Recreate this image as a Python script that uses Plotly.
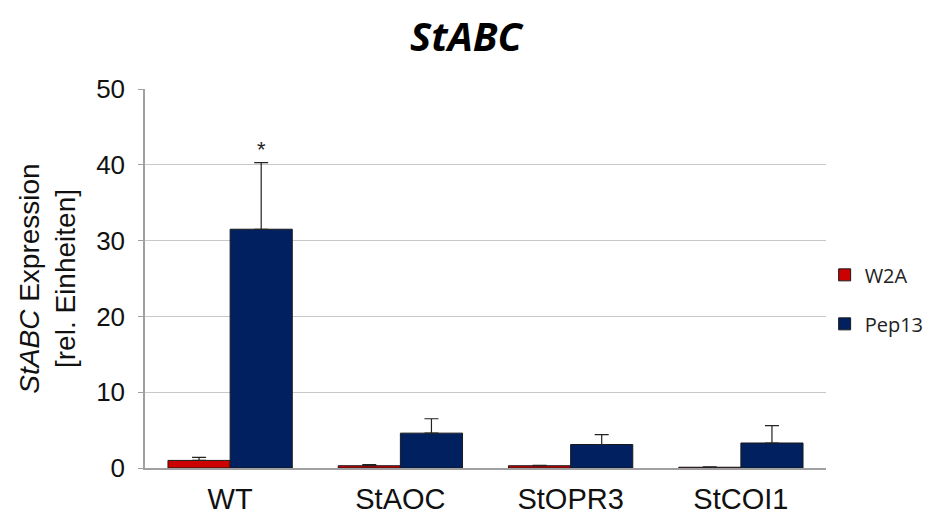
import plotly.graph_objects as go

categories = ["WT", "StAOC", "StOPR3", "StCOI1"]
w2a_values = [1.0, 0.3, 0.3, 0.1]
w2a_errors = [0.4, 0.15, 0.05, 0.05]
pep13_values = [31.5, 4.6, 3.1, 3.3]
pep13_errors = [8.8, 1.9, 1.3, 2.3]
y_ticks = [0, 10, 20, 30, 40, 50]

fig = go.Figure()
fig.add_trace(go.Bar(
    name="W2A", x=categories, y=w2a_values, legendgroup="g1",
    marker=dict(color="#CC0000", line=dict(color="#1a1a1a", width=1)),
    error_y=dict(type="data", array=w2a_errors, arrayminus=[0]*4,
                 color="#222222", thickness=1.2, width=7),
))
fig.add_trace(go.Bar(
    name="Pep13", x=categories, y=pep13_values, legendgroup="g2",
    marker=dict(color="#002060", line=dict(color="#1a1a1a", width=1)),
    error_y=dict(type="data", array=pep13_errors, arrayminus=[0]*4,
                 color="#222222", thickness=1.2, width=7),
))

fig.add_annotation(x="WT", y=pep13_values[0] + pep13_errors[0], xref="x", yref="y",
                   text="*", showarrow=False, xshift=31, yshift=13,
                   font=dict(family="Liberation Sans, Arial", size=22, color="#222"))

fig.update_layout(
    width=933, height=519,
    paper_bgcolor="white", plot_bgcolor="white",
    margin=dict(l=137, r=115, t=81, b=57),
    barmode="group", bargap=0.27, bargroupgap=0,
    title=dict(text="<b><i>StABC</i></b>", x=0.491, xanchor="center", y=0.945, yanchor="middle",
               font=dict(family="Open Sans, Noto Sans", size=40, color="black")),
    legend=dict(x=0.998, xanchor="left", y=0.445, yanchor="middle",
                font=dict(family="Open Sans, Noto Sans", size=20, color="#222"),
                traceorder="grouped", tracegroupgap=20, itemwidth=30,
                bgcolor="rgba(0,0,0,0)"),
    font=dict(family="Liberation Sans, Arial", color="#111"),
)
fig.update_yaxes(range=[0, 50], tickvals=y_ticks, showgrid=True, gridcolor="#c8c8c8",
                 gridwidth=1, showline=True, linecolor="#a0a0a0", linewidth=1.5,
                 ticks="outside", ticklen=5, tickcolor="#a0a0a0", ticklabelstandoff=8,
                 tickfont=dict(size=26, family="Liberation Sans, Arial", color="#111"),
                 zeroline=False,
                 title=dict(text="<i>StABC</i> Expression<br>[rel. Einheiten]",
                            font=dict(size=28, family="Liberation Sans, Arial", color="#111"),
                            standoff=12))
fig.update_xaxes(showline=True, linecolor="#a0a0a0", linewidth=1.5, ticks="",
                 ticklabelstandoff=4,
                 tickfont=dict(size=29, family="Liberation Sans, Arial", color="#111"))

fig.write_html("out.html")
